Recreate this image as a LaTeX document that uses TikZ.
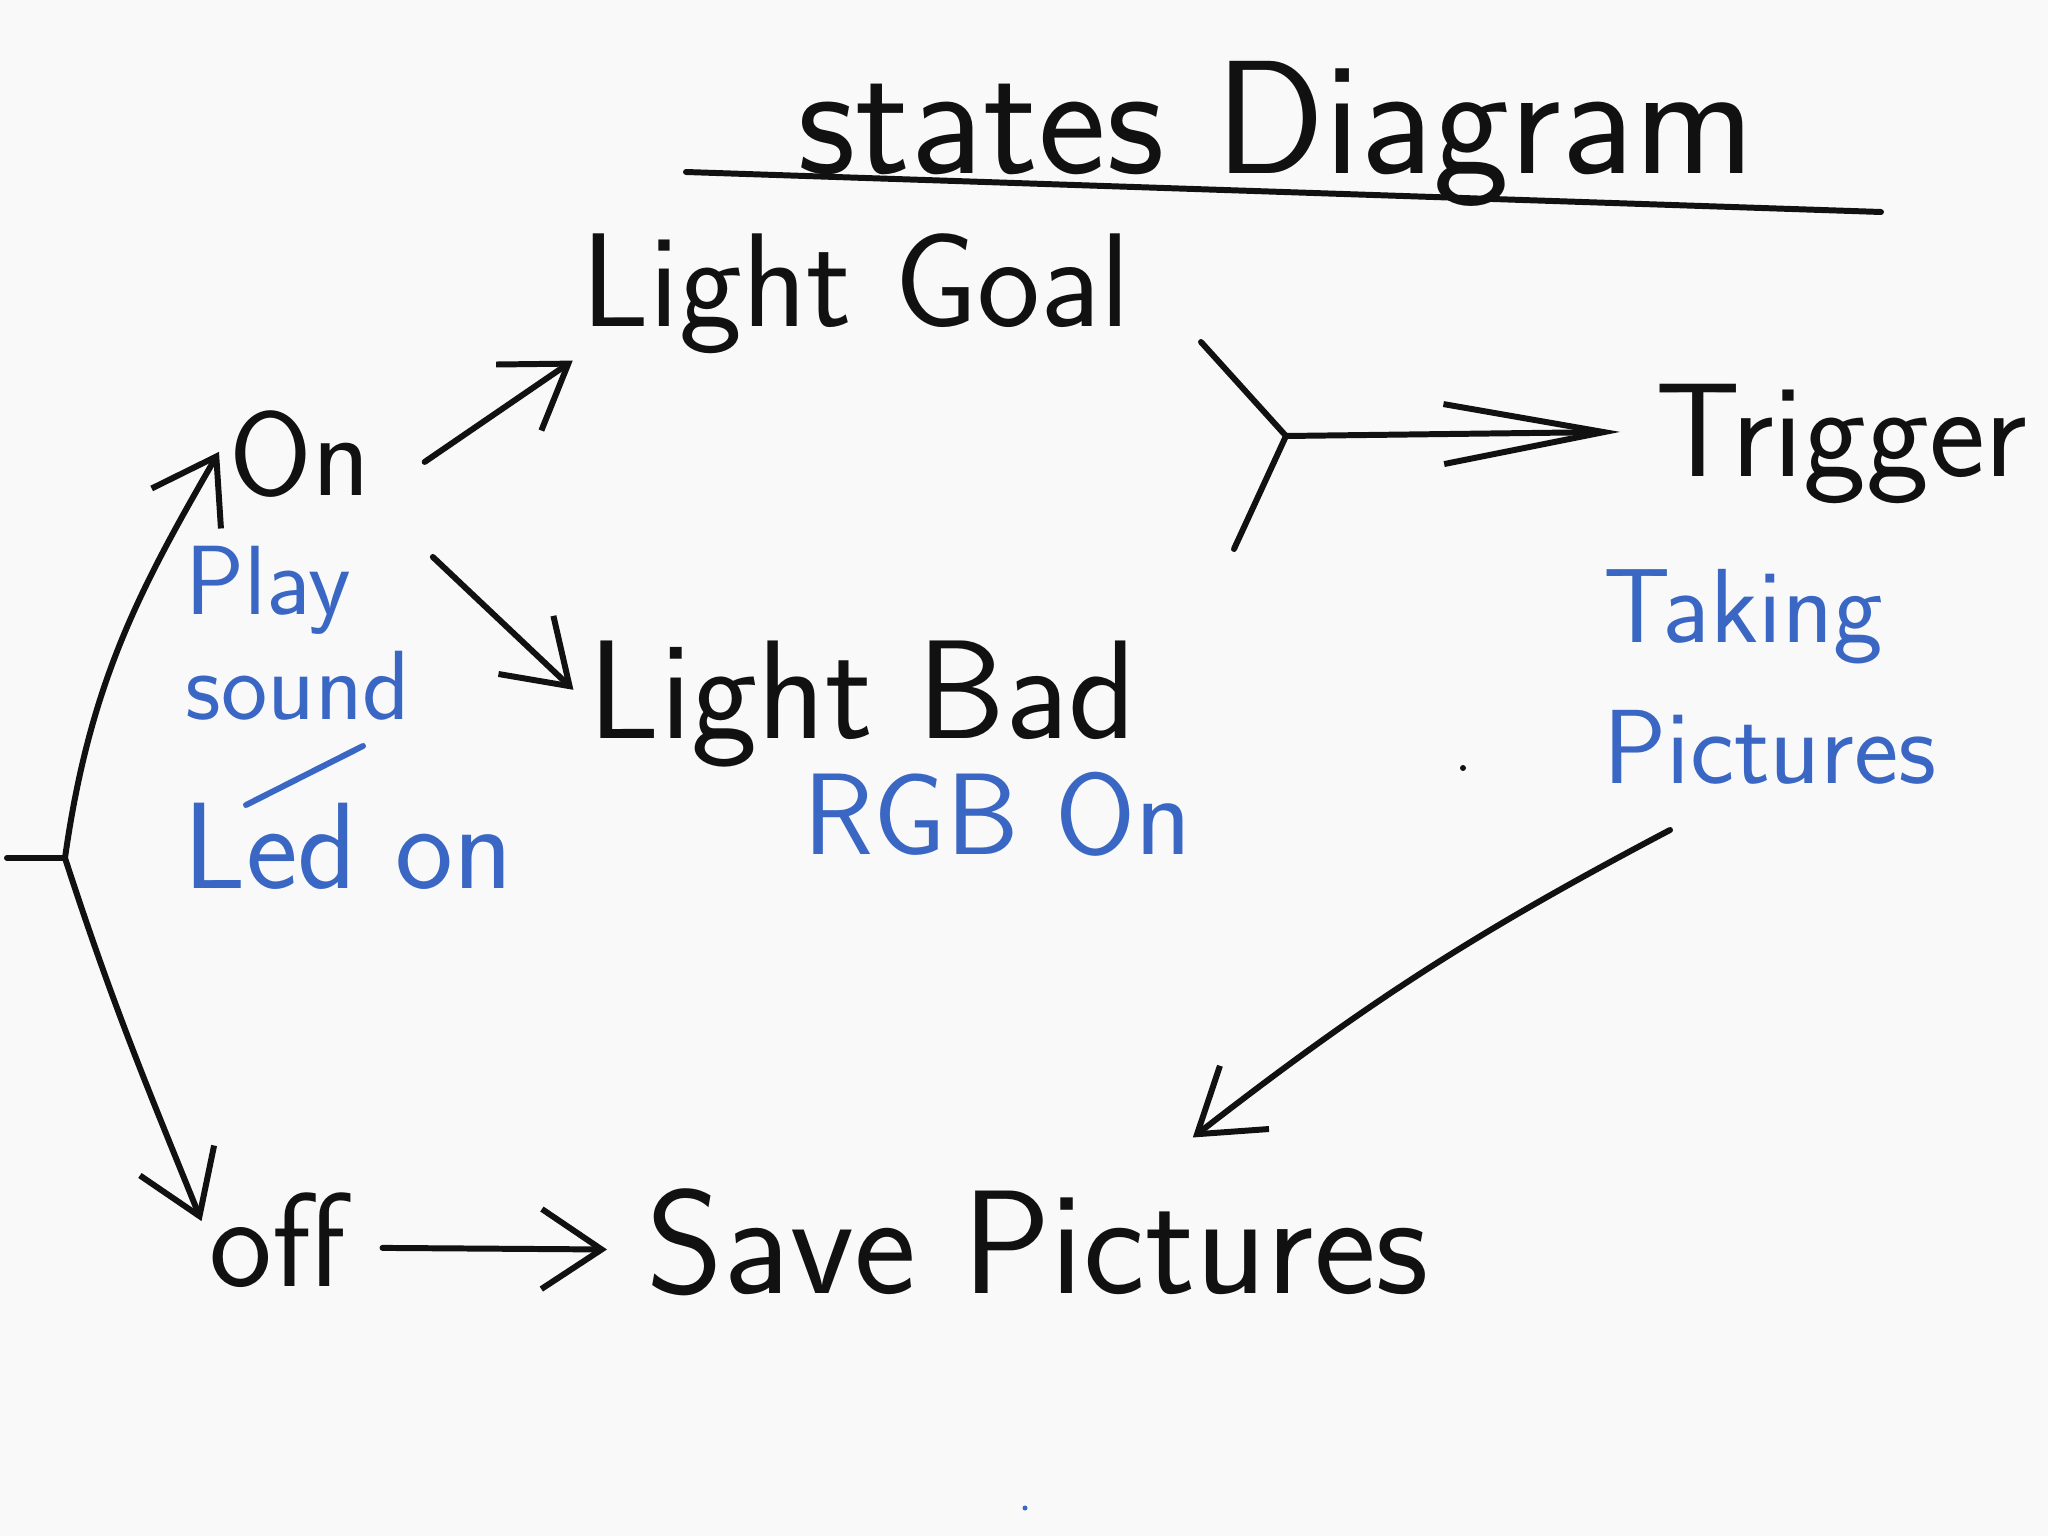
\documentclass[tikz,border=0pt]{standalone}
\usetikzlibrary{arrows.meta}
\definecolor{ink}{HTML}{111111}
\definecolor{pen}{HTML}{3A66C4}
\definecolor{paper}{HTML}{F9F9F9}
\tikzset{
  state/.style={inner sep=0pt,anchor=base west,text=ink,font=\sffamily\fontsize{38}{42}\selectfont},
  note/.style={inner sep=0pt,text=pen,align=left,font=\sffamily\fontsize{30}{40}\selectfont},
  stroke/.style={line width=1.7pt,draw=ink,line cap=round},
  arr/.style={stroke,-{Straight Barb[length=6mm,width=8mm]}},
  bigarr/.style={stroke,-{Straight Barb[length=16mm,width=6mm]}},
}
\begin{document}
\begin{tikzpicture}
	\fill[paper] (0,0) rectangle (20.48,-15.36);
	\useasboundingbox (0,0) rectangle (20.48,-15.36);
	
	\node[state,font=\sffamily\fontsize{46}{50}\selectfont] (title) at (7.97,-1.74) {states Diagram};
	\node[state] (lgood) at (5.81,-3.27) {Light Goal};
	\node[state,font=\sffamily\fontsize{34}{40}\selectfont] (on) at (2.29,-4.96) {On};
	\node[state,font=\sffamily\fontsize{40}{44}\selectfont] (lbad) at (5.88,-7.38) {Light Bad};
	\node[state] (trig) at (16.55,-4.77) {Trigger};
	\node[state] (off) at (2.09,-12.86) {off};
	\node[state,font=\sffamily\fontsize{42}{46}\selectfont] (save) at (6.46,-12.93) {Save Pictures};
	
	\node[note,anchor=base west,font=\sffamily\fontsize{33}{36}\selectfont] (rgb) at (8.03,-8.55) {RGB On};
	\node[note,anchor=base west,font=\sffamily\fontsize{35}{38}\selectfont] (led) at (1.83,-8.88) {Led on};
	\node[note,font=\sffamily\fontsize{28}{30}\selectfont] (play) at (2.98,-6.33) {Play\\sound};
	\node[note] (take) at (17.70,-6.77) {Taking\\Pictures};
	
	\coordinate (stub) at (0.07,-8.58);
	\coordinate (fork) at (0.65,-8.58);
	\coordinate (goodarm) at (12.01,-3.42);
	\coordinate (badarm) at (12.34,-5.49);
	\coordinate (join) at (12.86,-4.36);
	
	\draw[stroke] (6.86,-1.72) -- (18.81,-2.12);
	
	\draw[stroke] (stub) -- (fork);
	\draw[arr,shorten >=2mm] (fork) to[out=82,in=240] ([yshift=2mm]on.west);
	\draw[arr,shorten >=2mm] (fork) to[out=-72,in=112] (off.west);
	\draw[arr,shorten <=6.5mm,shorten >=1mm] (on.south east) -- (lgood.south west);
	\draw[arr,shorten <=8.5mm,shorten >=2mm] (on.south east) -- (lbad.west);
	\draw[stroke] (goodarm) -- (join);
	\draw[stroke] (badarm) -- (join);
	\draw[bigarr,shorten >=3.5mm] (join) -- ([yshift=1.3mm]trig.west);
	\draw[arr,bend right=5] ([xshift=-1cm,yshift=-0.45cm]take.south) to ([xshift=1.55cm,yshift=0.5cm]save.north);
	\draw[arr,shorten <=3.6mm,shorten >=3.9mm] ([yshift=-0.8mm]off.east) -- ([yshift=-0.8mm]save.west);
	
	\draw[stroke,draw=pen] (2.46,-8.05) -- (3.63,-7.46);
	\fill[ink] (14.63,-7.68) circle (0.03);
	\fill[pen] (10.25,-15.08) circle (0.025);
\end{tikzpicture}
\end{document}
